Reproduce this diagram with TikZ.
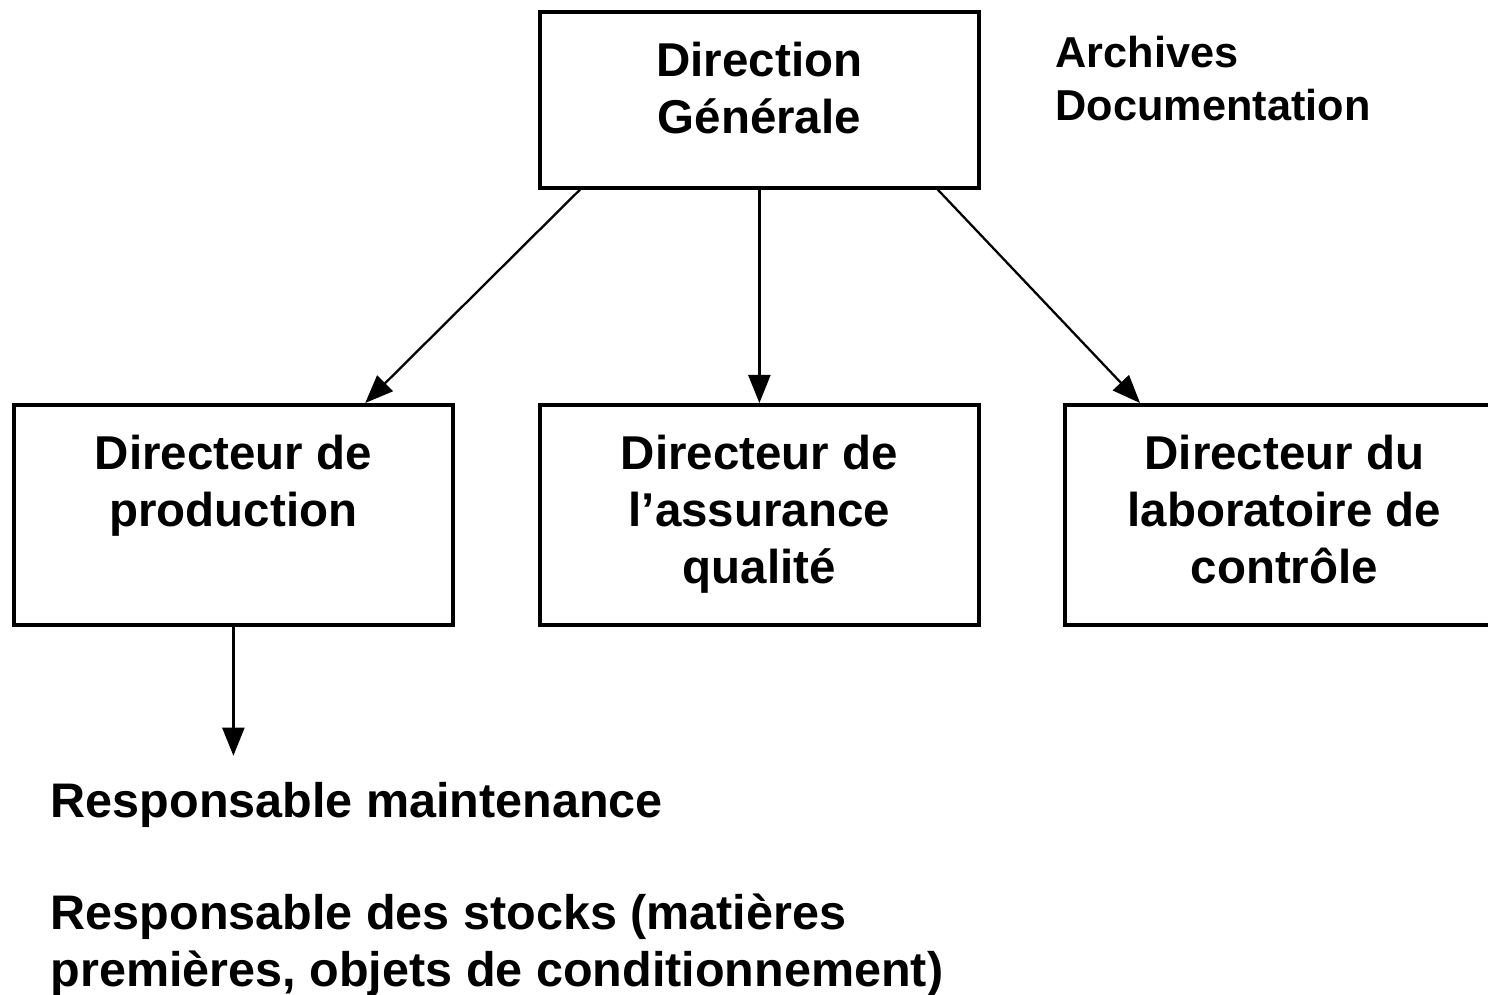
\documentclass[tikz,border=0pt]{standalone}
\usepackage{fontspec}
\setmainfont{Liberation Sans}
\usetikzlibrary{arrows.meta}
\tikzset{
  boite/.style={draw, line width=1pt, anchor=north west, minimum width=4.39cm, minimum height=2.2cm, inner sep=0pt},
  titre/.style={anchor=north, align=center, inner sep=0pt, font=\fontsize{13.5}{16.2}\selectfont\bfseries},
  texte/.style={anchor=north west, align=left, inner sep=0pt, font=\fontsize{13.8}{16.2}\selectfont\bfseries},
  fleche/.style={line width=0.65pt, -{Triangle[length=0.28cm, width=0.22cm]}}
}
\begin{document}
\begin{tikzpicture}[x=0.01cm, y=-0.01cm]
\useasboundingbox (0,0) rectangle (1488,994);
\node[boite, minimum height=1.76cm] (dg) at (538,10){};
\node[titre] (dgt) at ([yshift=-0.31cm]dg.north){Direction\\Générale};
\node[texte, font=\fontsize{12.3}{15.1}\selectfont\bfseries] (arch) at (1055,35){Archives\\Documentation};
\node[boite] (dp) at (12,403){};
\node[titre] (dpt) at ([yshift=-0.31cm]dp.north){Directeur de\\production};
\node[boite] (daq) at (538,403){};
\node[titre] (daqt) at ([yshift=-0.31cm]daq.north){Directeur de\\l’assurance\\qualité};
\node[boite] (dl) at (1063,403){};
\node[titre] (dlt) at ([yshift=-0.31cm]dl.north){Directeur du\\laboratoire de\\contrôle};
\draw[fleche]([xshift=0.42cm]dg.south west) -- ([xshift=3.53cm]dp.north west);
\draw[fleche](dg.south) -- (daq.north);
\draw[fleche]([xshift=-0.43cm]dg.south east) -- ([xshift=0.77cm]dl.north west);
\coordinate (rmf) at ([yshift=-1.29cm]dp.south);
\draw[fleche](dp.south) -- (rmf);
\node[texte] (rm) at (50,782){Responsable maintenance};
\node[texte] (rs) at (50,893){Responsable des stocks (matières\\premières, objets de conditionnement)};
\end{tikzpicture}
\end{document}
